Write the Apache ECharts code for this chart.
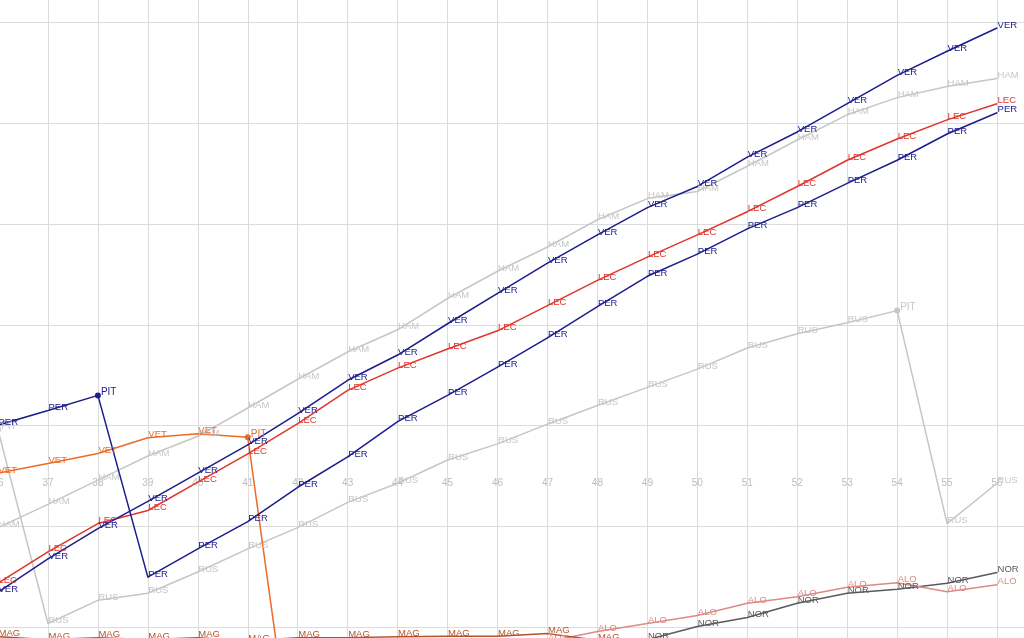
<!DOCTYPE html>
<html><head><meta charset="utf-8">
<script src="https://cdn.jsdelivr.net/npm/echarts@6/dist/echarts.min.js"></script>
<style>html,body{margin:0;padding:0;background:#fff}#c{width:1024px;height:638px}</style>
</head><body><div id="c"></div>
<script>
// Laps shown (x axis)
const laps = [36,37,38,39,40,41,42,43,44,45,46,47,48,49,50,51,52,53,54,55,56];
// Gap values (one value per lap, null = not drawn)
const VER = [-16.5,-13.2,-10.2,-7.5,-4.7,-1.9,1.2,4.5,7.0,10.1,13.1,16.1,18.9,21.6,23.7,26.6,29.1,31.9,34.7,37.1,39.4];
const LEC = [-15.6,-12.5,-9.7,-8.4,-5.6,-2.8,0.2,3.5,5.7,7.6,9.4,11.9,14.4,16.7,18.9,21.2,23.7,26.3,28.4,30.3,31.9];
const PER = [0.05,1.5,3.0,-15.0,-12.2,-9.5,-6.1,-3.1,0.4,3.0,5.8,8.7,11.8,14.8,17.0,19.5,21.6,24.0,26.3,28.9,31.0];
const HAM = [-10.1,-7.8,-5.4,-3.0,-1.05,1.75,4.6,7.3,9.5,12.6,15.3,17.7,20.4,22.5,23.2,25.7,28.3,30.8,32.5,33.6,34.4];
const RUS = [-0.4,-19.6,-17.3,-16.6,-14.5,-12.2,-10.1,-7.6,-5.7,-3.4,-1.8,0.15,2.0,3.8,5.6,7.7,9.1,10.2,11.4,-9.7,-5.7];
const VET = [-4.7,-3.75,-2.75,-1.2,-0.8,-1.15,-36.8,null,null,null,null,null,null,null,null,null,null,null,null,null,null];
const MAG = [-20.9,-21.2,-21.0,-21.2,-21.0,-21.35,-21.0,-21.0,-20.9,-20.85,-20.85,-20.6,-21.25,null,null,null,null,null,null,null,null];
const ALO = [null,null,null,null,null,null,null,null,null,null,null,-21.4,-20.4,-19.6,-18.8,-17.6,-16.95,-16.0,-15.55,-16.45,-15.75];
const NOR = [null,null,null,null,null,null,null,null,null,null,null,null,-22.0,-21.2,-19.9,-19.0,-17.6,-16.6,-16.2,-15.6,-14.55];
// Pit-stop laps
const perPits = [38];
const vetPits = [41];
const rusPits = [36, 54];

const drivers = [
  {code:'HAM', vals:HAM, pits:[], color:'#c6c6c6'},
  {code:'RUS', vals:RUS, pits:rusPits, color:'#c6c6c6'},
  {code:'NOR', vals:NOR, pits:[], color:'#5a5a5a'},
  {code:'ALO', vals:ALO, pits:[], color:'#dc8a86'},
  {code:'MAG', vals:MAG, pits:[], color:'#b0532b'},
  {code:'VET', vals:VET, pits:vetPits, color:'#ee6a24'},
  {code:'LEC', vals:LEC, pits:[], color:'#e0342c'},
  {code:'PER', vals:PER, pits:perPits, color:'#1c1c8c'},
  {code:'VER', vals:VER, pits:[], color:'#1c1c8c'}
];

const series = drivers.map(d => {
  const data = [];
  laps.forEach((lap, i) => {
    if (d.vals[i] === null) return;
    const pit = d.pits.includes(lap);
    data.push({
      value: [lap, d.vals[i]],
      symbolSize: pit ? 6 : 1,
      label: pit ? {formatter: 'PIT', fontSize: 10} : {formatter: d.code}
    });
  });
  return {
    name: d.code, type: 'line', data: data,
    symbol: 'circle', showSymbol: true,
    lineStyle: {color: d.color, width: 1.5},
    itemStyle: {color: d.color},
    label: {show: true, position: 'right', distance: 0, offset: [0, -3],
            color: d.color, fontSize: 9.5, fontFamily: "'Liberation Sans Narrow', 'Liberation Sans', sans-serif"},
    emphasis: {disabled: true},
    z: 2
  };
});

const chart = echarts.init(document.getElementById('c'), null, {renderer: 'canvas'});
chart.setOption({
  animation: false,
  backgroundColor: '#ffffff',
  grid: {left: -2, right: -23, top: -79, bottom: -90.5, containLabel: false, outerBoundsMode: 'none'},
  xAxis: {
    type: 'value', min: 36, max: 57, interval: 1,
    offset: -258,
    axisLine: {show: false, onZero: false}, axisTick: {show: false},
    axisLabel: {color: '#bdbdbd', fontSize: 10, fontFamily: "'Liberation Sans Narrow', 'Liberation Sans', sans-serif", margin: 8},
    splitLine: {show: true, lineStyle: {color: '#dcdcdc', width: 1}}
  },
  yAxis: {
    type: 'value', min: -30, max: 50, interval: 10,
    axisLine: {show: false}, axisTick: {show: false}, axisLabel: {show: false},
    splitLine: {show: true, lineStyle: {color: '#dcdcdc', width: 1}}
  },
  series: series
});
</script>
</body></html>
